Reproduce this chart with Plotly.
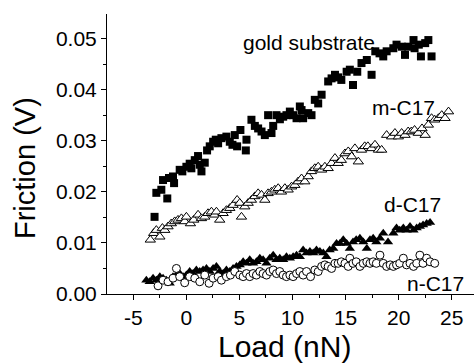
import plotly.graph_objects as go

# ---- data ----
gold_x = [-3.0, -2.83, -2.36, -2.2, -1.8, -1.64, -1.26, -1.16, -0.63, -0.38, 0.0, 0.31, 0.47, 0.79, 1.1, 1.26,
          1.42, 1.73, 1.95, 2.2, 2.52, 2.77, 2.99, 3.3, 3.77, 4.09, 4.34, 4.56, 4.78, 5.09, 5.6, 5.66, 6.13,
          6.45, 6.76, 7.08, 7.39, 7.7, 8.02, 8.18, 8.49, 8.81, 9.12, 9.43, 9.75, 10.06, 10.38, 10.69, 10.85,
          11.0, 11.48, 11.79, 12.1, 12.42, 12.74, 13.36, 13.68, 14.0, 14.3, 14.6, 15.1, 15.4, 15.7, 16.1,
          16.5, 17.0, 17.45, 17.8, 18.2, 18.55, 18.87, 19.5, 19.8, 20.3, 20.6, 20.9, 21.4, 21.5, 21.9, 22.1,
          22.5, 22.8, 23.1]
gold_y = [0.0151, 0.0198, 0.0204, 0.0223, 0.0187, 0.0227, 0.0230, 0.0217, 0.0243, 0.0240, 0.0249, 0.0255,
          0.0246, 0.0262, 0.0270, 0.0253, 0.0240, 0.0257, 0.0281, 0.0289, 0.0298, 0.0302, 0.0295, 0.0305,
          0.0308, 0.0298, 0.0292, 0.0311, 0.0289, 0.0321, 0.0281, 0.0302, 0.0341, 0.0329, 0.0324, 0.0318,
          0.0311, 0.0350, 0.0315, 0.0329, 0.0350, 0.0342, 0.0347, 0.0350, 0.0357, 0.0350, 0.0344, 0.0367,
          0.0360, 0.0344, 0.0354, 0.0350, 0.0380, 0.0373, 0.0390, 0.0416, 0.0422, 0.0429, 0.0424, 0.0419,
          0.0435, 0.0439, 0.0409, 0.0435, 0.0452, 0.0458, 0.0429, 0.0475, 0.0471, 0.0465, 0.0475, 0.0481,
          0.0488, 0.0484, 0.0468, 0.0484, 0.0497, 0.0481, 0.0488, 0.0465, 0.0491, 0.0497, 0.0465]

m_x = [-3.4, -3.08, -2.83, -2.5, -2.26, -2.04, -1.73, -1.42, -1.1, -0.79, -0.47, -0.16, 0.0, 0.38, 0.69, 1.1,
       1.42, 1.73, 2.04, 2.36, 2.67, 2.83, 3.14, 3.46, 3.77, 4.09, 4.4, 4.78, 5.03, 5.19, 5.5, 5.82, 6.13, 6.45,
       6.76, 7.08, 7.39, 7.7, 8.02, 8.33, 8.65, 8.96, 9.28, 9.59, 9.91, 10.22, 10.53, 10.85, 11.16, 11.48,
       11.79, 12.1, 12.42, 12.74, 13.05, 13.36, 13.68, 14.0, 14.3, 14.6, 14.94, 15.25, 15.57, 15.88, 16.2,
       16.5, 16.8, 17.1, 17.45, 17.77, 18.1, 18.4, 18.87, 19.34, 19.65, 19.97, 20.28, 20.6, 20.9, 21.2, 21.5,
       21.85, 22.2, 22.5, 22.8, 23.1, 23.4, 23.75, 24.06, 24.37, 24.7]
m_y = [0.0106, 0.0119, 0.0125, 0.0112, 0.0129, 0.0125, 0.0132, 0.0138, 0.0142, 0.0145, 0.0148, 0.0142,
       0.0151, 0.0138, 0.0145, 0.0155, 0.0148, 0.0151, 0.0158, 0.0161, 0.0155, 0.0161, 0.0145, 0.0158,
       0.0164, 0.0168, 0.0174, 0.0184, 0.0178, 0.0151, 0.0171, 0.0178, 0.0184, 0.0191, 0.0197, 0.0194,
       0.0184, 0.0197, 0.0200, 0.0204, 0.0207, 0.0200, 0.0207, 0.0204, 0.0210, 0.0213, 0.0220, 0.0226,
       0.0220, 0.0230, 0.0240, 0.0246, 0.0249, 0.0243, 0.0249, 0.0246, 0.0256, 0.0266, 0.0256, 0.0262,
       0.0275, 0.0279, 0.0269, 0.0285, 0.0259, 0.0282, 0.0289, 0.0289, 0.0285, 0.0292, 0.0282, 0.0282,
       0.0311, 0.0308, 0.0315, 0.0308, 0.0315, 0.0311, 0.0318, 0.0318, 0.0321, 0.0315, 0.0324, 0.0311,
       0.0331, 0.0344, 0.0341, 0.0344, 0.0350, 0.0344, 0.0357]

d_x = [-3.77, -3.46, -3.14, -2.83, -2.5, -2.2, -1.89, -1.57, -1.26, -0.94, -0.63, -0.31, 0.0, 0.31, 0.63, 0.94,
       1.26, 1.57, 1.89, 2.2, 2.52, 2.83, 3.14, 3.46, 3.77, 4.09, 4.4, 4.72, 5.03, 5.35, 5.66, 5.97, 6.29, 6.6,
       6.92, 7.23, 7.55, 7.86, 8.18, 8.49, 8.8, 9.12, 9.43, 9.75, 10.06, 10.38, 10.69, 11.0, 11.32, 11.64,
       11.95, 12.26, 12.58, 12.9, 13.2, 13.5, 13.84, 14.15, 14.47, 14.78, 15.1, 15.4, 15.7, 16.0, 16.35,
       16.67, 17.0, 17.3, 17.6, 17.9, 18.24, 18.55, 19.0, 19.5, 19.8, 20.1, 20.44, 20.75, 21.07, 21.4, 21.7,
       22.0, 22.3, 22.64, 22.96]
d_y = [0.0027, 0.0024, 0.0031, 0.0027, 0.0034, 0.0031, 0.0027, 0.0021, 0.0034, 0.0037, 0.0040, 0.0034,
       0.0037, 0.0044, 0.0040, 0.0047, 0.0044, 0.0047, 0.0050, 0.0044, 0.0050, 0.0054, 0.0044, 0.0040,
       0.0047, 0.0044, 0.0050, 0.0054, 0.0057, 0.0063, 0.0060, 0.0067, 0.0060, 0.0063, 0.0070, 0.0067,
       0.0060, 0.0070, 0.0076, 0.0067, 0.0070, 0.0067, 0.0073, 0.0070, 0.0073, 0.0076, 0.0073, 0.0086,
       0.0080, 0.0083, 0.0080, 0.0086, 0.0083, 0.0080, 0.0073, 0.0086, 0.0089, 0.0099, 0.0099, 0.0106,
       0.0099, 0.0089, 0.0102, 0.0106, 0.0109, 0.0102, 0.0089, 0.0106, 0.0109, 0.0102, 0.0109, 0.0119,
       0.0102, 0.0119, 0.0129, 0.0125, 0.0129, 0.0125, 0.0132, 0.0125, 0.0129, 0.0132, 0.0135, 0.0138,
       0.0140]

n_x = [-2.67, -2.2, -1.73, -1.26, -0.94, -0.63, -0.16, 0.31, 0.79, 1.26, 1.73, 2.14, 2.52, 2.99, 3.3, 3.77,
       4.15, 4.56, 5.03, 5.35, 5.66, 5.97, 6.29, 6.6, 6.92, 7.23, 7.55, 7.86, 8.18, 8.49, 8.8, 9.12, 9.43,
       9.75, 10.06, 10.38, 10.69, 11.0, 11.32, 11.7, 12.1, 12.42, 12.74, 13.05, 13.36, 13.68, 14.0, 14.3,
       14.6, 14.94, 15.25, 15.4, 15.7, 16.0, 16.35, 16.67, 17.0, 17.3, 17.6, 17.9, 18.24, 18.55, 18.87, 19.2,
       19.5, 19.8, 20.1, 20.44, 20.75, 21.07, 21.4, 21.7, 22.0, 22.3, 22.64, 22.96, 23.4]
n_y = [0.0016, 0.0027, 0.0024, 0.0031, 0.0050, 0.0034, 0.0022, 0.0034, 0.0031, 0.0024, 0.0037, 0.0021,
       0.0031, 0.0034, 0.0027, 0.0034, 0.0037, 0.0044, 0.0037, 0.0034, 0.0040, 0.0034, 0.0040, 0.0037,
       0.0044, 0.0040, 0.0037, 0.0044, 0.0047, 0.0040, 0.0044, 0.0037, 0.0034, 0.0037, 0.0034, 0.0040,
       0.0044, 0.0037, 0.0044, 0.0034, 0.0047, 0.0044, 0.0054, 0.0057, 0.0054, 0.0050, 0.0060, 0.0060,
       0.0063, 0.0060, 0.0054, 0.0070, 0.0060, 0.0063, 0.0054, 0.0060, 0.0063, 0.0060, 0.0063, 0.0060,
       0.0076, 0.0060, 0.0054, 0.0057, 0.0054, 0.0057, 0.0060, 0.0070, 0.0057, 0.0060, 0.0054, 0.0060,
       0.0076, 0.0060, 0.0070, 0.0063, 0.0060]

series_labels = ["gold substrate", "m-C17", "d-C17", "n-C17"]
x_title = "Load (nN)"
y_title = "Friction (V)"
x_ticks = [-5, 0, 5, 10, 15, 20, 25]
y_ticks = [0.00, 0.01, 0.02, 0.03, 0.04, 0.05]

FONT = "Liberation Sans, Arial, Helvetica, sans-serif"

fig = go.Figure()
fig.add_trace(go.Scatter(x=gold_x, y=gold_y, mode="markers", name=series_labels[0],
                         marker=dict(symbol="square", size=8, color="black", line=dict(width=0))))
fig.add_trace(go.Scatter(x=m_x, y=m_y, mode="markers", name=series_labels[1],
                         marker=dict(symbol="triangle-up", size=9, color="white",
                                     line=dict(width=1, color="black"))))
fig.add_trace(go.Scatter(x=d_x, y=d_y, mode="markers", name=series_labels[2],
                         marker=dict(symbol="triangle-up", size=9, color="black", line=dict(width=0))))
fig.add_trace(go.Scatter(x=n_x, y=n_y, mode="markers", name=series_labels[3],
                         marker=dict(symbol="circle", size=8, color="white",
                                     line=dict(width=1, color="black"))))

label_pos = [(309, 43), (403, 107), (412, 204), (435, 283)]
for txt, (px, py) in zip(series_labels, label_pos):
    fig.add_annotation(text=txt, xref="paper", yref="paper",
                       x=(px - 107) / 367, y=(294 - py) / 280,
                       xanchor="center", yanchor="middle", showarrow=False,
                       font=dict(family=FONT, size=21, color="black"))

fig.add_annotation(text=x_title, xref="paper", yref="paper", x=(284 - 107) / 367, y=(294 - 346) / 280,
                   xanchor="center", yanchor="middle", showarrow=False,
                   font=dict(family=FONT, size=30, color="black"))
fig.add_annotation(text=y_title, xref="paper", yref="paper", x=(25 - 107) / 367, y=(294 - 168) / 280,
                   xanchor="center", yanchor="middle", showarrow=False, textangle=-90,
                   font=dict(family=FONT, size=29, color="black"))

fig.update_xaxes(range=[-7.48, 27.1], tickvals=x_ticks, ticktext=[str(v) for v in x_ticks],
                 showline=True, linecolor="black", linewidth=1, showgrid=False, zeroline=False,
                 ticks="outside", ticklen=5, tickcolor="black", tickwidth=1,
                 minor=dict(dtick=2.5, tick0=0, ticks="outside", ticklen=3, tickcolor="black", showgrid=False),
                 tickfont=dict(family=FONT, size=21, color="black"))
fig.update_yaxes(range=[0, 0.0548], tickvals=y_ticks, ticktext=["%.2f" % v for v in y_ticks],
                 showline=True, linecolor="black", linewidth=1, showgrid=False, zeroline=False,
                 ticks="outside", ticklen=5, tickcolor="black", tickwidth=1,
                 minor=dict(dtick=0.005, tick0=0, ticks="outside", ticklen=3, tickcolor="black", showgrid=False),
                 tickfont=dict(family=FONT, size=21, color="black"))

fig.update_layout(width=474, height=364, margin=dict(l=107, r=0, t=14, b=70),
                  paper_bgcolor="white", plot_bgcolor="white", showlegend=False)

fig.write_html("out.html")
